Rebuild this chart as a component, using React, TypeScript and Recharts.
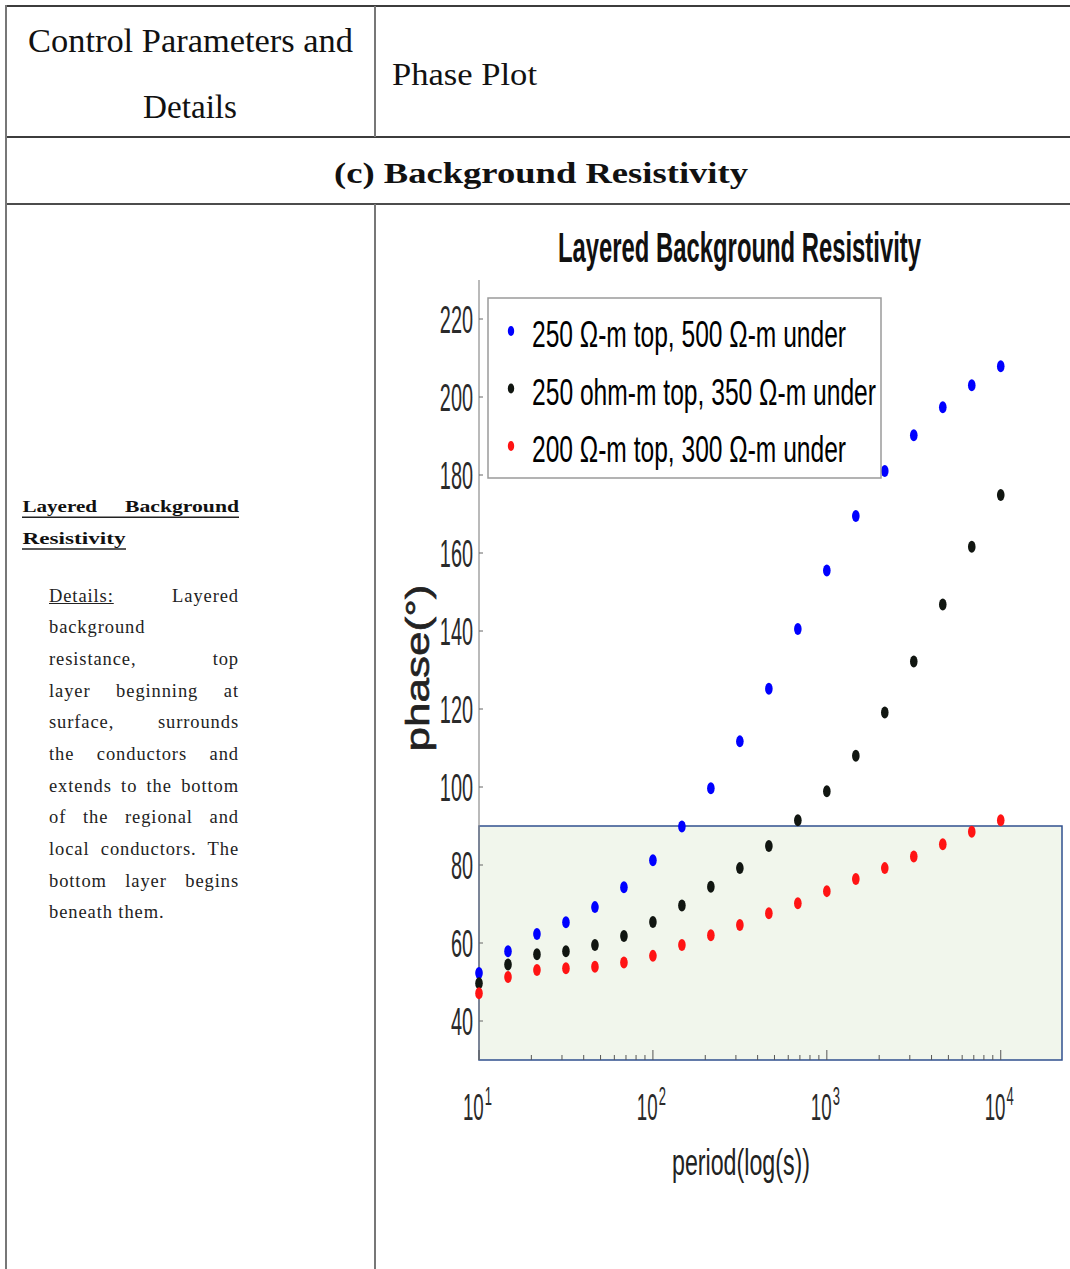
import React from 'react';
import { ScatterChart, Scatter, XAxis, YAxis, ReferenceArea, Legend } from 'recharts';

// period (s), 19 points per decade-ish spacing
const periods = [10, 14.68, 21.54, 31.62, 46.42, 68.13, 100, 146.8, 215.4, 316.2, 464.2, 681.3, 1000, 1468, 2154, 3162, 4642, 6813, 10000];

// phase (deg)
const phaseA = [52.3, 57.9, 62.3, 65.3, 69.2, 74.3, 81.2, 89.9, 99.7, 111.7, 125.2, 140.5, 155.5, 169.5, 181.0, 190.2, 197.4, 203.0, 207.9];
const phaseB = [49.7, 54.5, 57.1, 57.9, 59.5, 61.8, 65.4, 69.6, 74.4, 79.2, 84.9, 91.5, 98.9, 108.0, 119.1, 132.2, 146.8, 161.6, 174.9];
const phaseC = [47.1, 51.3, 53.1, 53.5, 53.9, 55.0, 56.7, 59.5, 62.0, 64.6, 67.6, 70.2, 73.3, 76.4, 79.2, 82.2, 85.3, 88.5, 91.5];

const seriesNames = ['250 Ω-m top, 500 Ω-m under', '250 ohm-m top, 350 Ω-m under', '200 Ω-m top, 300 Ω-m under'];
const seriesColors = ['#0000ff', '#111611', '#ff1414'];

const yTicks = [40, 60, 80, 100, 120, 140, 160, 180, 200, 220];
const xMajorTicks = [10, 100, 1000, 10000];
const xMinorTicks = [20, 30, 40, 50, 60, 70, 80, 90, 200, 300, 400, 500, 600, 700, 800, 900, 2000, 3000, 4000, 5000, 6000, 7000, 8000, 9000];
const xDomain = [10, 22500];
const yDomain = [30, 230];
const shadedBand = [30, 90];

const detailLines = [
  'background',
  'resistance, top',
  'layer beginning at',
  'surface, surrounds',
  'the conductors and',
  'extends to the bottom',
  'of the regional and',
  'local conductors. The',
  'bottom layer begins',
  'beneath them.',
];

const toPoints = (ys: number[]) => periods.map((p, i) => ({ period: p, phase: ys[i] }));
const seriesData = [toPoints(phaseA), toPoints(phaseB), toPoints(phaseC)];

const sans = 'Liberation Sans, Arial, sans-serif';
const serif = 'Liberation Serif, Times New Roman, serif';

// condensed text: squeeze horizontally, then pin the final width
const FitText = (props: any) => {
  const { x, y, width, sx, anchor = 'start', children, ...rest } = props;
  return (
    <g transform={`translate(${x},${y}) scale(${sx},1)`}>
      <text x={0} y={0} textAnchor={anchor} textLength={width / sx} lengthAdjust="spacingAndGlyphs" {...rest}>
        {children}
      </text>
    </g>
  );
};

const Dot = (props: any) => {
  const { cx, cy, fill } = props;
  if (cx == null || cy == null) return null;
  return <ellipse cx={cx} cy={cy} rx={3.8} ry={6} fill={fill} />;
};

const YTick = (props: any) => {
  const { x, y, payload } = props;
  return (
    <g>
      <line x1={x} x2={x + 4} y1={y} y2={y} stroke="#666" strokeWidth={1} />
      <g transform={`translate(${x - 6},${y + 14}) scale(0.51,1)`}>
        <text x={0} y={0} textAnchor="end" fontSize={39} fontFamily={sans} fill="#2a2a2a">
          {payload.value}
        </text>
      </g>
    </g>
  );
};

const XTick = (props: any) => {
  const { x, y, payload } = props;
  const major = xMajorTicks.includes(payload.value);
  const exp = Math.round(Math.log10(payload.value));
  return (
    <g>
      <line x1={x} x2={x} y1={y} y2={y - (major ? 10 : 5)} stroke="#555" strokeWidth={1} />
      {major && (
        <g transform={`translate(${x - 1.5},${y + 60}) scale(0.52,1)`}>
          <text x={0} y={0} textAnchor="middle" fontSize={36} fontFamily={sans} fill="#2a2a2a">
            <tspan>10</tspan>
            <tspan dx={2} dy={-15} fontSize={25}>{exp}</tspan>
          </text>
        </g>
      )}
    </g>
  );
};

const LegendBox = (props: any) => {
  const payload = [...(props.payload || [])].sort(
    (a: any, b: any) => seriesNames.indexOf(a.value) - seriesNames.indexOf(b.value)
  );
  const widths = [314, 344, 314];
  return (
    <svg width={396} height={183} style={{ display: 'block' }}>
      <rect x={1} y={1} width={393} height={180} fill="#fff" stroke="#9a9a9a" strokeWidth={1.5} />
      {payload.map((entry: any, i: number) => (
        <g key={i}>
          <ellipse cx={24} cy={34 + i * 57.5} rx={3.2} ry={5} fill={entry.color} />
          <FitText x={45} y={50 + i * 57.5} width={widths[i]} sx={0.68} fontSize={36} fontFamily={sans} fill="#000">
            {entry.value}
          </FitText>
        </g>
      ))}
    </svg>
  );
};

const YLabel = (props: any) => {
  const { viewBox } = props;
  const cx = viewBox.x + 10;
  const cy = viewBox.y + viewBox.height / 2 - 2;
  return (
    <text
      x={cx}
      y={cy}
      transform={`rotate(-90, ${cx}, ${cy})`}
      textAnchor="middle"
      fontSize={33}
      fontFamily={sans}
      fill="#222"
      stroke="#222"
      strokeWidth={0.6}
      textLength={167}
      lengthAdjust="spacingAndGlyphs"
    >
      phase(°)
    </text>
  );
};

const XLabel = (props: any) => {
  const { viewBox } = props;
  return (
    <FitText x={viewBox.x + 262} y={viewBox.y + 115} anchor="middle" width={138} sx={0.63} fontSize={37} fontFamily={sans} fill="#222">
      period(log(s))
    </FitText>
  );
};

function PhaseChart() {
  return (
    <ScatterChart width={694} height={1064} margin={{ top: 75, right: 8, bottom: 179, left: 43 }}>
      <ReferenceArea
        x1={xDomain[0]}
        x2={xDomain[1]}
        y1={shadedBand[0]}
        y2={shadedBand[1]}
        fill="#f1f6ec"
        fillOpacity={1}
        stroke="#30508f"
        strokeWidth={1.5}
      />
      <XAxis
        type="number"
        dataKey="period"
        scale="log"
        domain={xDomain}
        ticks={[...xMajorTicks, ...xMinorTicks].sort((a, b) => a - b)}
        interval={0}
        axisLine={false}
        tickLine={false}
        tickSize={0}
        tickMargin={0}
        height={30}
        tick={<XTick />}
        label={<XLabel />}
      />
      <YAxis
        type="number"
        dataKey="phase"
        domain={yDomain}
        ticks={yTicks}
        interval={0}
        axisLine={{ stroke: '#8c8c8c', strokeWidth: 1.2 }}
        tickLine={false}
        tickSize={0}
        tickMargin={0}
        width={60}
        tick={<YTick />}
        label={<YLabel />}
      />
      <Legend
        layout="vertical"
        align="center"
        verticalAlign="middle"
        content={<LegendBox />}
        wrapperStyle={{ left: 111, top: 92, width: 396, height: 183 }}
      />
      {seriesData.map((d, i) => (
        <Scatter
          key={i}
          name={seriesNames[i]}
          data={d}
          fill={seriesColors[i]}
          shape={<Dot />}
          isAnimationActive={false}
        />
      ))}
    </ScatterChart>
  );
}

export default function App() {
  return (
    <div style={{ position: 'absolute', left: 0, top: 0, width: 1070, height: 1269, background: '#fff', overflow: 'hidden' }}>
      <svg width={1070} height={1269} style={{ position: 'absolute', left: 0, top: 0 }}>
        {/* table rules */}
        <line x1={6} x2={1070} y1={6} y2={6} stroke="#3c3c3c" strokeWidth={2} />
        <line x1={6} x2={1070} y1={137} y2={137} stroke="#3c3c3c" strokeWidth={2} />
        <line x1={6} x2={1070} y1={204} y2={204} stroke="#111" strokeWidth={1.5} />
        <line x1={6} x2={6} y1={5} y2={1269} stroke="#777" strokeWidth={2} />
        <line x1={375} x2={375} y1={6} y2={137} stroke="#777" strokeWidth={2} />
        <line x1={375} x2={375} y1={204} y2={1269} stroke="#777" strokeWidth={2} />

        <text x={190.5} y={52.3} textAnchor="middle" fontSize={33} fontFamily={serif} fill="#111" textLength={325} lengthAdjust="spacingAndGlyphs">
          Control Parameters and
        </text>
        <text x={190} y={118.3} textAnchor="middle" fontSize={33} fontFamily={serif} fill="#111" textLength={94} lengthAdjust="spacingAndGlyphs">
          Details
        </text>
        <text x={392} y={85} fontSize={32} fontFamily={serif} fill="#111" textLength={145} lengthAdjust="spacingAndGlyphs">
          Phase Plot
        </text>
        <text x={334} y={183} fontSize={30} fontWeight="bold" fontFamily={serif} fill="#111" textLength={414} lengthAdjust="spacingAndGlyphs">
          (c) Background Resistivity
        </text>

        {/* left column heading */}
        <text x={22.5} y={512.3} fontSize={17} fontWeight="bold" fontFamily={serif} fill="#111" textLength={74.5} lengthAdjust="spacingAndGlyphs">
          Layered
        </text>
        <text x={125} y={512.3} fontSize={17} fontWeight="bold" fontFamily={serif} fill="#111" textLength={114} lengthAdjust="spacingAndGlyphs">
          Background
        </text>
        <line x1={22} x2={239} y1={517.3} y2={517.3} stroke="#222" strokeWidth={1.4} />
        <text x={22.5} y={544} fontSize={17} fontWeight="bold" fontFamily={serif} fill="#111" textLength={103} lengthAdjust="spacingAndGlyphs">
          Resistivity
        </text>
        <line x1={22} x2={126} y1={549} y2={549} stroke="#222" strokeWidth={1.4} />

        {/* chart title */}
        <FitText x={739.5} y={262} anchor="middle" width={363} sx={0.555} fontSize={43} fontWeight="bold" fontFamily={sans} fill="#111">
          Layered Background Resistivity
        </FitText>
      </svg>

      <div
        style={{
          position: 'absolute',
          left: 49,
          top: 580.5,
          width: 190,
          fontFamily: serif,
          fontSize: 18.5,
          lineHeight: '31.67px',
          color: '#222',
          letterSpacing: '0.9px',
        }}
      >
        <div style={{ whiteSpace: 'nowrap', textAlign: 'justify', textAlignLast: 'justify' }}>
          <span style={{ textDecoration: 'underline' }}>Details:</span> Layered
        </div>
        {detailLines.map((line, i) => {
          const last = i === 0 || i === detailLines.length - 1;
          return (
            <div
              key={i}
              style={{ whiteSpace: 'nowrap', textAlign: last ? 'left' : 'justify', textAlignLast: last ? 'left' : 'justify' }}
            >
              {line}
            </div>
          );
        })}
      </div>

      <div style={{ position: 'absolute', left: 376, top: 205 }}>
        <PhaseChart />
      </div>
    </div>
  );
}
